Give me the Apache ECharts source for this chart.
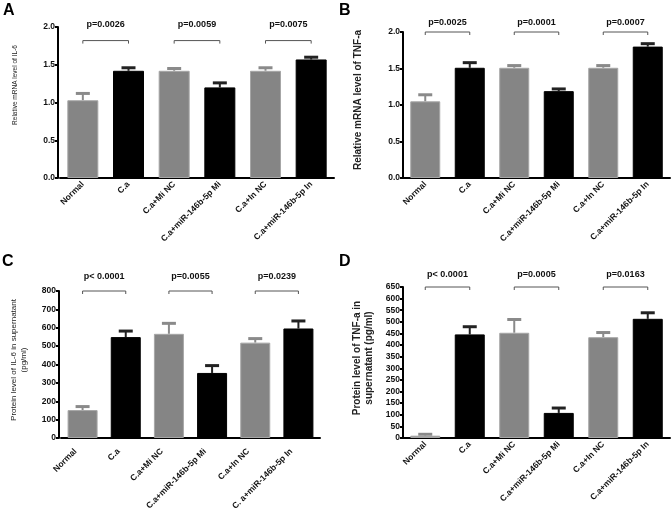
<!DOCTYPE html>
<html>
<head>
<meta charset="utf-8">
<title>IL-6 / TNF-a</title>
<script src="https://cdn.jsdelivr.net/npm/echarts@6/dist/echarts.min.js"></script>
<style>
  * { margin: 0; padding: 0; }
  #main { width: 672px; height: 513px; background: #fff; }
</style>
</head>
<body>
<div id="main"></div>
<script>
// groups on the x axis
var groups = ['Normal', 'C.a', 'C.a+Mi NC', 'C.a+miR-146b-5p Mi', 'C.a+In NC', 'C.a+miR-146b-5p In'];
var groupsC = ['Normal', 'C.a', 'C.a+Mi NC', 'C.a+miR-146b-5p Mi', 'C.a+In NC', 'C. a+miR-146b-5p In'];

// A: IL-6 mRNA (mean, mean+err)
var il6Mrna = [1.03, 1.42, 1.42, 1.20, 1.42, 1.57];
var il6MrnaErr = [1.12, 1.46, 1.45, 1.26, 1.46, 1.60];
// B: TNF-a mRNA
var tnfMrna = [1.05, 1.51, 1.51, 1.19, 1.51, 1.80];
var tnfMrnaErr = [1.14, 1.58, 1.54, 1.22, 1.54, 1.84];
// C: IL-6 protein (pg/ml)
var il6Prot = [152, 549, 567, 354, 519, 596];
var il6ProtErr = [171, 582, 624, 394, 541, 637];
// D: TNF-a protein (pg/ml)
var tnfProt = [10, 446, 453, 108, 434, 513];
var tnfProtErr = [16, 479, 510, 129, 454, 539];

// p values for the pairs (0,1) (2,3) (4,5)
var pA = ['p=0.0026', 'p=0.0059', 'p=0.0075'];
var pB = ['p=0.0025', 'p=0.0001', 'p=0.0007'];
var pC = ['p< 0.0001', 'p=0.0055', 'p=0.0239'];
var pD = ['p< 0.0001', 'p=0.0005', 'p=0.0163'];
var pairs = [[0, 1], [2, 3], [4, 5]];

var FONT = 'Liberation Sans, Arial, sans-serif';
var GRAY = '#858585';

var myChart = echarts.init(document.getElementById('main'));

function xAxisFor(idx, cats, pad) {
    return {
        type: 'category', gridIndex: idx, data: cats,
        axisLine: { lineStyle: { color: '#000', width: 2 } },
        axisTick: { alignWithLabel: true, length: 3, lineStyle: { color: '#000', width: 2 } },
        axisLabel: { rotate: 45, fontSize: 8.5, fontWeight: 'bold', color: '#111', fontFamily: FONT,
                     margin: 5, interval: 0, padding: pad || 0 }
    };
}

function yAxisFor(idx, max, interval, digits, offset) {
    return {
        type: 'value', gridIndex: idx, min: 0, max: max, interval: interval, offset: offset,
        axisLine: { show: true, lineStyle: { color: '#000', width: 2 } },
        axisTick: { show: true, length: 3, lineStyle: { color: '#000', width: 2 } },
        splitLine: { show: false },
        axisLabel: {
            fontSize: 8.5, fontWeight: 'bold', color: '#111', fontFamily: FONT, margin: 3,
            formatter: function (v) { return v.toFixed(digits); }
        }
    };
}

function barSeries(idx, vals, w) {
    var d = [];
    for (var i = 0; i < vals.length; i++) {
        d.push({
            value: vals[i],
            itemStyle: i % 2 == 0 ? { color: GRAY, borderColor: '#a6a6a6', borderWidth: 1 }
                                  : { color: '#000', borderColor: '#000', borderWidth: 1 }
        });
    }
    return { type: 'bar', xAxisIndex: idx, yAxisIndex: idx, data: d, barWidth: w, silent: true, z: 2 };
}

// upper error bar: stem + cap
function errSeries(idx, vals, tops) {
    var d = [];
    for (var i = 0; i < vals.length; i++) d.push([i, vals[i], tops[i]]);
    return {
        type: 'custom', xAxisIndex: idx, yAxisIndex: idx, data: d, z: 1, silent: true,
        encode: { x: 0, y: [1, 2] },
        renderItem: function (params, api) {
            var p0 = api.coord([api.value(0), api.value(1)]);
            var p1 = api.coord([api.value(0), api.value(2)]);
            var c = api.value(0) % 2 == 0 ? '#8a8a8a' : '#222';
            return {
                type: 'group',
                children: [
                    { type: 'line', shape: { x1: p0[0], y1: p0[1], x2: p1[0], y2: p1[1] }, style: { stroke: c, lineWidth: 2 } },
                    { type: 'line', shape: { x1: p1[0] - 7, y1: p1[1], x2: p1[0] + 7, y2: p1[1] }, style: { stroke: c, lineWidth: 3 } }
                ]
            };
        }
    };
}

// bracket + p value text above it
function pSeries(idx, level, labels, gap) {
    var d = [];
    for (var i = 0; i < pairs.length; i++) d.push([pairs[i][0], pairs[i][1], level]);
    return {
        type: 'custom', xAxisIndex: idx, yAxisIndex: idx, data: d, clip: false, silent: true,
        encode: { x: [0, 1], y: 2 },
        renderItem: function (params, api) {
            var a = api.coord([api.value(0), api.value(2)]);
            var b = api.coord([api.value(1), api.value(2)]);
            return {
                type: 'group',
                children: [
                    { type: 'polyline', shape: { points: [[a[0], a[1] + 3], [a[0], a[1]], [b[0], b[1]], [b[0], b[1] + 3]] },
                      style: { stroke: '#555', lineWidth: 1, fill: null } },
                    { type: 'text', x: (a[0] + b[0]) / 2, y: a[1] - gap,
                      style: { text: labels[params.dataIndex], fontSize: 9, fontWeight: 'bold', fontFamily: FONT,
                               fill: '#111', align: 'center', verticalAlign: 'middle' } }
                ]
            };
        }
    };
}

function vTitle(x, y, txt, size, bold) {
    return {
        type: 'text', x: x, y: y, rotation: Math.PI / 2,
        style: { text: txt, fontSize: size, fontWeight: bold ? 'bold' : 'normal', fontFamily: FONT,
                 fill: '#222', align: 'center', verticalAlign: 'middle', lineHeight: size + 2 }
    };
}

function letter(x, y, t) {
    return { type: 'text', x: x, y: y, style: { text: t, fontSize: 16, fontWeight: 'bold', fontFamily: FONT, fill: '#000' } };
}

var option = {
    backgroundColor: '#fff',
    animation: false,
    grid: [
        { left: 60, top: 27, width: 274, height: 151 },
        { left: 403, top: 32, width: 267, height: 146 },
        { left: 61, top: 291, width: 259, height: 147 },
        { left: 403, top: 287, width: 267, height: 151 }
    ],
    // panel C labels sit a little left of the bars in the original
    xAxis: [xAxisFor(0, groups), xAxisFor(1, groups), xAxisFor(2, groupsC, [0, 10, 20, 0]), xAxisFor(3, groups)],
    yAxis: [
        yAxisFor(0, 2, 0.5, 1, 2),
        yAxisFor(1, 2, 0.5, 1, 0),
        yAxisFor(2, 800, 100, 0, 2),
        yAxisFor(3, 650, 50, 0, 0)
    ],
    series: [
        barSeries(0, il6Mrna, 31), errSeries(0, il6Mrna, il6MrnaErr), pSeries(0, 1.82, pA, 16),
        barSeries(1, tnfMrna, 30), errSeries(1, tnfMrna, tnfMrnaErr), pSeries(1, 2.0, pB, 9),
        barSeries(2, il6Prot, 30), errSeries(2, il6Prot, il6ProtErr), pSeries(2, 800, pC, 14),
        barSeries(3, tnfProt, 30), errSeries(3, tnfProt, tnfProtErr), pSeries(3, 650, pD, 12)
    ],
    graphic: [
        letter(3, 3, 'A'), letter(339, 3, 'B'), letter(2, 254, 'C'), letter(339, 254, 'D'),
        vTitle(15, 85, 'Relative mRNA level of IL-6', 6.5, false),
        vTitle(358, 100, 'Relative mRNA level of TNF-a', 10, true),
        vTitle(19, 360, 'Protein level of IL-6 in supernatant\n(pg/ml)', 8, false),
        vTitle(363, 358, 'Protein level of TNF-a in\nsupernatant (pg/ml)', 10, true)
    ]
};

myChart.setOption(option);
</script>
</body>
</html>
